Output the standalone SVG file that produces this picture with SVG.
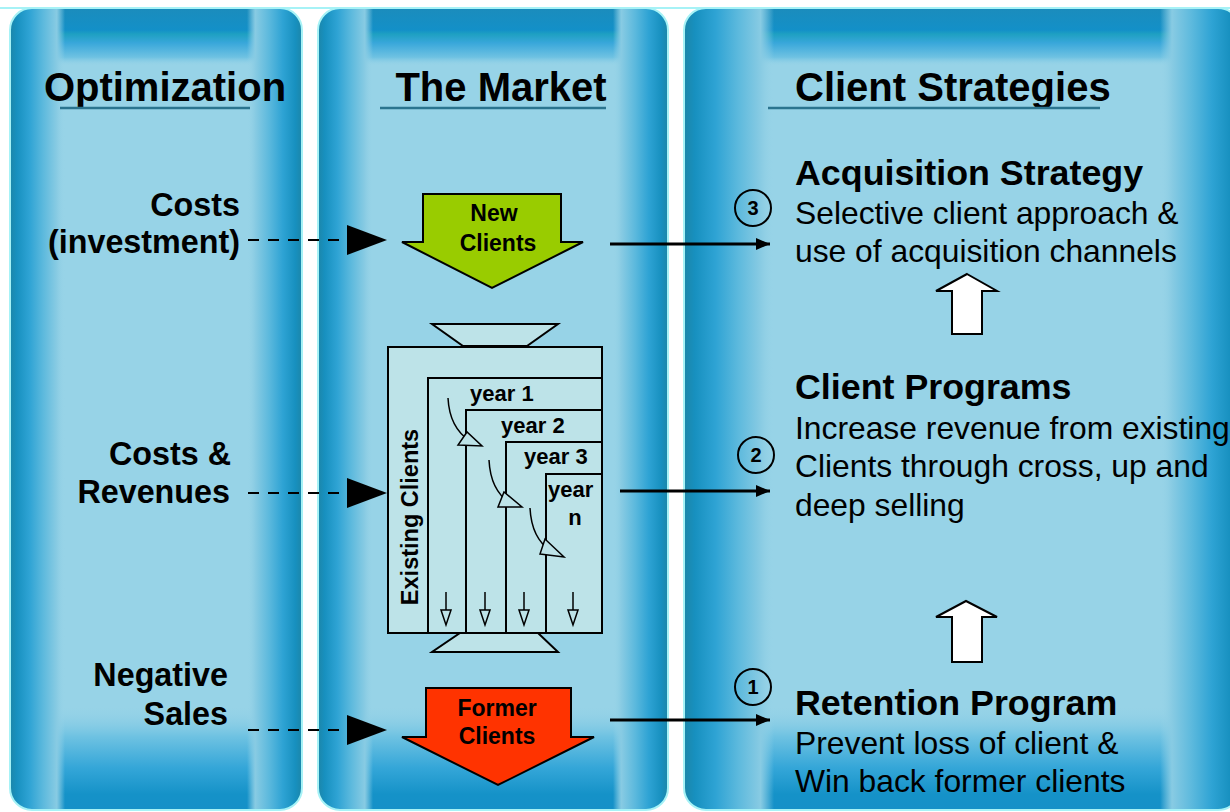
<svg xmlns="http://www.w3.org/2000/svg" width="1230" height="812" viewBox="0 0 1230 812">
<defs>
<style>
text{font-family:"Liberation Sans",Arial,Helvetica,sans-serif;fill:#000}
.h{font-size:40px;font-weight:bold}
.lbl{font-size:32.3px;font-weight:bold;text-anchor:end}
.sub{font-size:35.8px;font-weight:bold}
.body{font-size:31.8px}
.arr{font-size:23px;font-weight:bold;text-anchor:middle}
.yr{font-size:22px;font-weight:bold}
.num{font-size:20px;font-weight:bold;text-anchor:middle}
.ul{stroke:#2a748f;stroke-width:2.5}
.box{fill:#bde3e8;stroke:#000;stroke-width:2}
.dash{stroke:#000;stroke-width:2;stroke-dasharray:11 9;fill:none}
.solid{stroke:#000;stroke-width:3;fill:none}
.thin{stroke:#000;stroke-width:1.5;fill:none}
.open{fill:#bde3e8;stroke:#000;stroke-width:1.5}
.circ{fill:none;stroke:#000;stroke-width:2}
.up{fill:#fff;stroke:#000;stroke-width:2}
.base{fill:#97d3e7}
.edge{fill:none;stroke:#a6f2f6;stroke-width:2}
</style>
<linearGradient id="gl" x1="0" y1="0" x2="1" y2="0">
<stop offset="0" stop-color="#1d86a8"/>
<stop offset="0.12" stop-color="#1790bf"/>
<stop offset="0.35" stop-color="#2ea3d4"/>
<stop offset="0.6" stop-color="#5cb9dd"/>
<stop offset="0.85" stop-color="#88cbe3"/>
<stop offset="1" stop-color="#97d3e7" stop-opacity="0"/>
</linearGradient>
<linearGradient id="gr" x1="1" y1="0" x2="0" y2="0">
<stop offset="0" stop-color="#1d86a8"/>
<stop offset="0.12" stop-color="#1790bf"/>
<stop offset="0.35" stop-color="#2ea3d4"/>
<stop offset="0.6" stop-color="#5cb9dd"/>
<stop offset="0.85" stop-color="#88cbe3"/>
<stop offset="1" stop-color="#97d3e7" stop-opacity="0"/>
</linearGradient>
<linearGradient id="gt" x1="0" y1="0" x2="0" y2="1">
<stop offset="0" stop-color="#1b8cbc"/>
<stop offset="0.38" stop-color="#1390c8"/>
<stop offset="0.45" stop-color="#1ea0c2"/>
<stop offset="0.6" stop-color="#38a7da"/>
<stop offset="0.85" stop-color="#6fc2e2"/>
<stop offset="1" stop-color="#97d3e7" stop-opacity="0"/>
</linearGradient>
<linearGradient id="gb" x1="0" y1="0" x2="0" y2="1">
<stop offset="0" stop-color="#97d3e7" stop-opacity="0"/>
<stop offset="0.3" stop-color="#6ec2e2"/>
<stop offset="0.6" stop-color="#34a6d8"/>
<stop offset="0.85" stop-color="#1592c8"/>
<stop offset="1" stop-color="#1590c8"/>
</linearGradient>
<clipPath id="c1"><rect x="10" y="8" width="292" height="802" rx="22"/></clipPath>
<clipPath id="c2"><rect x="318" y="8" width="350" height="802" rx="22"/></clipPath>
<clipPath id="c3"><rect x="684" y="8" width="556" height="802" rx="22"/></clipPath>
<marker id="bigHead" viewBox="0 0 40 30" refX="40" refY="15" markerWidth="40" markerHeight="30" markerUnits="userSpaceOnUse" orient="auto">
<path d="M0,0 L40,15 L0,30 z" fill="#000"/>
</marker>
<marker id="head" viewBox="0 0 14 12" refX="14" refY="6" markerWidth="14" markerHeight="12" markerUnits="userSpaceOnUse" orient="auto">
<path d="M0,0 L14,6 L0,12 z" fill="#000"/>
</marker>
</defs>
<rect width="1230" height="812" fill="#fff"/>
<line x1="0" y1="8" x2="1230" y2="8" stroke="#a6f2f6" stroke-width="2"/>

<g id="panel-optimization">
<g clip-path="url(#c1)">
<rect class="base" x="10" y="8" width="292" height="802"/>
<rect x="10" y="8" width="292" height="58" fill="url(#gt)"/>
<rect x="10" y="705" width="292" height="105" fill="url(#gb)"/>
<rect x="10" y="8" width="55" height="802" fill="url(#gl)"/>
<rect x="247" y="8" width="55" height="802" fill="url(#gr)"/>
</g>
<rect class="edge" x="10" y="8" width="292" height="802" rx="22"/>
</g>
<g id="panel-market">
<g clip-path="url(#c2)">
<rect class="base" x="318" y="8" width="350" height="802"/>
<rect x="318" y="8" width="350" height="58" fill="url(#gt)"/>
<rect x="318" y="705" width="350" height="105" fill="url(#gb)"/>
<rect x="318" y="8" width="55" height="802" fill="url(#gl)"/>
<rect x="613" y="8" width="55" height="802" fill="url(#gr)"/>
</g>
<rect class="edge" x="318" y="8" width="350" height="802" rx="22"/>
</g>
<g id="panel-strategies">
<g clip-path="url(#c3)">
<rect class="base" x="684" y="8" width="556" height="802"/>
<rect x="684" y="8" width="556" height="58" fill="url(#gt)"/>
<rect x="684" y="705" width="556" height="105" fill="url(#gb)"/>
<rect x="684" y="8" width="90" height="802" fill="url(#gl)"/>
<rect x="1160" y="8" width="80" height="802" fill="url(#gr)"/>
</g>
<rect class="edge" x="684" y="8" width="556" height="802" rx="22"/>
</g>

<g id="headers">
<text class="h" x="165" y="101" text-anchor="middle">Optimization</text>
<line class="ul" x1="60" y1="108" x2="250" y2="108"/>
<text class="h" x="501" y="101" text-anchor="middle">The Market</text>
<line class="ul" x1="380" y1="108" x2="606" y2="108"/>
<text class="h" x="795" y="101">Client Strategies</text>
<line class="ul" x1="768" y1="108" x2="1100" y2="108"/>
</g>

<g id="label-costs-investment">
<text class="lbl" x="240" y="216">Costs</text>
<text class="lbl" x="240" y="253">(investment)</text>
</g>
<g id="label-costs-revenues">
<text class="lbl" x="231" y="465">Costs &amp;</text>
<text class="lbl" x="230" y="503">Revenues</text>
</g>
<g id="label-negative-sales">
<text class="lbl" x="228" y="686">Negative</text>
<text class="lbl" x="228" y="725">Sales</text>
</g>

<g id="node-new-clients">
<polygon points="423,194 561,194 561,242 583,242 492,288 402,242 423,242" fill="#99cc00" stroke="#000" stroke-width="2"/>
<text class="arr" x="494" y="221">New</text>
<text class="arr" x="498" y="251">Clients</text>
</g>

<g id="node-existing-clients">
<polygon class="box" points="432,324 558,324 527,346 463,346"/>
<polygon class="box" points="460,633 538,633 558,652 432,652"/>
<rect class="box" x="388" y="347" width="214" height="286"/>
<rect class="box" x="428" y="378" width="174" height="255"/>
<rect class="box" x="466" y="410" width="136" height="223"/>
<rect class="box" x="506" y="442" width="96" height="191"/>
<rect class="box" x="546" y="474" width="56" height="159"/>
<text class="yr" transform="translate(418,517) rotate(-90)" text-anchor="middle" style="font-size:23.5px">Existing Clients</text>
<text class="yr" x="470" y="401">year 1</text>
<text class="yr" x="501" y="433">year 2</text>
<text class="yr" x="524" y="464">year 3</text>
<text class="yr" x="548" y="497">year</text>
<text class="yr" x="575" y="525" text-anchor="middle">n</text>
<path class="thin" d="M448,398 C449,418 456,432 470,441"/>
<polygon class="open" points="458,445 482,446 467,432"/>
<path class="thin" d="M489,460 C490,480 496,494 510,503"/>
<polygon class="open" points="498,507 522,507 504,492"/>
<path class="thin" d="M530,508 C531,528 537,542 551,551"/>
<polygon class="open" points="540,554 564,557 545,539"/>
<line class="thin" x1="446" y1="592" x2="446" y2="610"/>
<polygon class="open" points="441,610 451,610 446,625"/>
<line class="thin" x1="485" y1="592" x2="485" y2="610"/>
<polygon class="open" points="480,610 490,610 485,625"/>
<line class="thin" x1="524" y1="592" x2="524" y2="610"/>
<polygon class="open" points="519,610 529,610 524,625"/>
<line class="thin" x1="573" y1="592" x2="573" y2="610"/>
<polygon class="open" points="568,610 578,610 573,625"/>
</g>

<g id="node-former-clients">
<polygon points="426,688 571,688 571,737 594,737 498,785 402,737 426,737" fill="#ff3300" stroke="#000" stroke-width="2"/>
<text class="arr" x="497" y="716">Former</text>
<text class="arr" x="497" y="744">Clients</text>
</g>

<g id="node-acquisition">
<circle class="circ" cx="753" cy="208" r="18"/>
<text class="num" x="753" y="215">3</text>
<text class="sub" x="795" y="185">Acquisition Strategy</text>
<text class="body" x="795" y="224">Selective client approach &amp;</text>
<text class="body" x="795" y="262">use of acquisition channels</text>
</g>
<g id="node-programs">
<circle class="circ" cx="756" cy="455" r="18"/>
<text class="num" x="756" y="462">2</text>
<text class="sub" x="795" y="399">Client Programs</text>
<text class="body" x="795" y="439">Increase revenue from existing</text>
<text class="body" x="795" y="477">Clients through cross, up and</text>
<text class="body" x="795" y="516">deep selling</text>
</g>
<g id="node-retention">
<circle class="circ" cx="753" cy="687" r="18"/>
<text class="num" x="753" y="694">1</text>
<text class="sub" x="795" y="715">Retention Program</text>
<text class="body" x="795" y="754">Prevent loss of client &amp;</text>
<text class="body" x="795" y="792">Win back former clients</text>
</g>

<g id="connectors">
<line class="dash" x1="248" y1="240" x2="387" y2="240" marker-end="url(#bigHead)"/>
<line class="dash" x1="248" y1="493" x2="387" y2="493" marker-end="url(#bigHead)"/>
<line class="dash" x1="248" y1="730" x2="387" y2="730" marker-end="url(#bigHead)"/>
<line class="solid" x1="610" y1="244" x2="770" y2="244" marker-end="url(#head)"/>
<line class="solid" x1="620" y1="491" x2="770" y2="491" marker-end="url(#head)"/>
<line class="solid" x1="610" y1="720" x2="770" y2="720" marker-end="url(#head)"/>
<polygon class="up" points="967,274 997,291 982,291 982,334 952,334 952,291 936,291"/>
<polygon class="up" points="966,601 997,617 982,617 982,662 952,662 952,617 936,617"/>
</g>
</svg>
